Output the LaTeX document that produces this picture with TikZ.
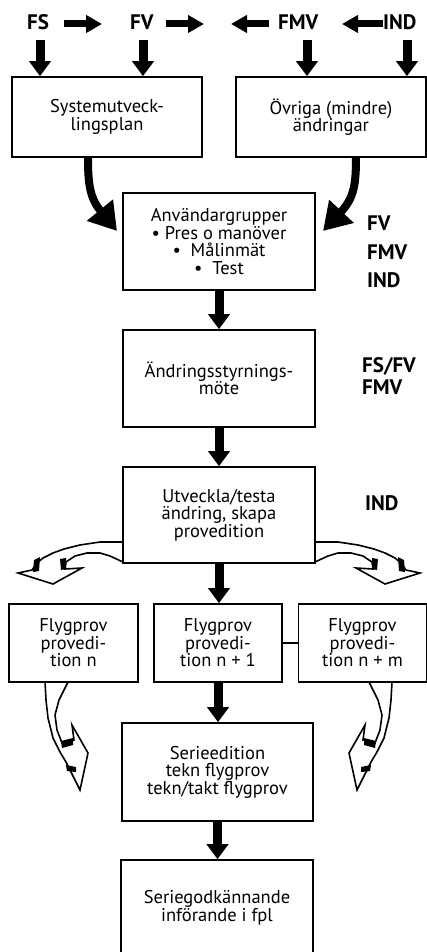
\documentclass[tikz,border=0pt]{standalone}
\usepackage{fontspec}
\setmainfont{PT Sans}
\usetikzlibrary{arrows.meta,calc}
\begin{document}
\begin{tikzpicture}[x=1pt,y=1pt,
 box/.style={draw, line width=1.6pt, fill=white, align=center, inner sep=0pt,
   font=\fontsize{18.5}{17.5}\selectfont},
 lbl/.style={font=\fontsize{21}{21}\selectfont\bfseries, inner sep=0pt, anchor=base west},
 varrow/.style={line width=9pt, -{Triangle[width=21pt,length=15pt]}},
 harrow/.style={line width=7pt, -{Triangle[width=17pt,length=16pt]}},
 carrow/.style={line width=8pt, -{Triangle[width=32pt,length=27pt]}},
 hollow/.style={draw, fill=white, line width=1.6pt, line join=miter},
 ribbonmark/.style={fill=black},
 thinline/.style={line width=1.6pt}
]
\useasboundingbox (0,0) rectangle (427,-952);
\clip (0,0) rectangle (427,-952);

% top labels
\node[lbl] (FS)  at (27,-30)  {FS};
\node[lbl] (FV)  at (130,-30) {FV};
\node[lbl] (FMV) at (278,-30) {FMV};
\node[lbl] (IND) at (383,-30) {IND};

% boxes
\node[box, minimum width=190pt, minimum height=80pt] (b1) at (107,-117) {Systemutveck-\\lingsplan};
\node[box, minimum width=190pt, minimum height=80pt] (b2) at (331,-117) {Övriga (mindre)\\ändringar};
\node[box, minimum width=192pt, minimum height=97pt] (b3) at (219,-241.5) {Användargrupper\\• Pres o manöver\\•\ \ Målinmät\\•\ \ Test};
\node[box, minimum width=192pt, minimum height=97pt] (b4) at (219,-378.5) {Ändringsstyrnings-\\möte};
\node[box, minimum width=192pt, minimum height=96pt] (b5) at (219,-515) {Utveckla/testa\\ändring, skapa\\provedition};
\node[box, minimum width=129pt, minimum height=78pt] (b6) at (73.5,-643) {Flygprov\\provedi-\\tion n};
\node[box, minimum width=128pt, minimum height=78pt] (b7) at (218,-643) {Flygprov\\provedi-\\tion n + 1};
\node[box, minimum width=128pt, minimum height=78pt] (b8) at (362.5,-643) {Flygprov\\provedi-\\tion n + m};
\node[box, minimum width=191pt, minimum height=98pt] (b9) at (217.5,-772) {Serieedition\\tekn flygprov\\tekn/takt flygprov};
\node[box, minimum width=192pt, minimum height=96pt] (b10) at (217,-908) {Seriegodkännande\\införande i fpl};

% right side labels
\node[lbl] (r1) at (367,-230) {FV};
\node[lbl] (r2) at (367,-259) {FMV};
\node[lbl] (r3) at (367,-287) {IND};
\node[lbl] (r4) at (362,-372) {FS/FV};
\node[lbl] (r5) at (362,-394) {FMV};
\node[lbl] (r6) at (365,-510) {IND};

% top horizontal arrows
\coordinate (h1a) at (64,-24);  \coordinate (h1b) at (102,-24);
\coordinate (h2a) at (166,-24); \coordinate (h2b) at (204,-24);
\coordinate (h3a) at (269,-24); \coordinate (h3b) at (231,-24);
\coordinate (h4a) at (383,-24); \coordinate (h4b) at (342,-24);
\draw[harrow] (h1a) -- (h1b);
\draw[harrow] (h2a) -- (h2b);
\draw[harrow] (h3a) -- (h3b);
\draw[harrow] (h4a) -- (h4b);

% top down arrows
\coordinate (d1) at (40,-40);
\coordinate (d2) at (143,-40);
\coordinate (d3) at (307,-40);
\coordinate (d4) at (407,-40);
\draw[varrow] (d1) -- (d1 |- b1.north);
\draw[varrow] (d2) -- (d2 |- b1.north);
\draw[varrow] (d3) -- (d3 |- b2.north);
\draw[varrow] (d4) -- (d4 |- b2.north);

% curved black arrows into b3
\coordinate (c1s) at (88,-157);  \coordinate (c1e) at (117,-231);
\coordinate (c2s) at (356,-157); \coordinate (c2e) at (323,-231);
\draw[carrow] (c1s) .. controls (88,-185) and (90,-198) .. (c1e);
\draw[carrow] (c2s) .. controls (356,-185) and (354,-198) .. (c2e);

% vertical arrows between boxes
\draw[varrow] (b3.south) -- (b3.south |- b4.north);
\draw[varrow] (b4.south) -- (b4.south |- b5.north);
\draw[varrow] (b5.south) -- (b5.south |- b7.north);
\draw[varrow] (b7.south) -- (b7.south |- b9.north);
\draw[varrow] (b9.south) -- (b9.south |- b10.north);

% link b7 - b8
\draw[thinline] (b7.east) -- (b8.west);

% hollow arrows from b5
\draw[hollow] (123,-542) -- (100,-542) -- (80,-545) -- (64,-549) -- (53,-553) -- (43,-558) -- (37,-563) -- (32,-570)
  -- (18,-573) -- (53,-584) -- (82,-568) -- (65,-569) -- (66,-562) -- (75,-556) -- (87,-553) -- (100,-553) -- (110,-556) -- (123,-562) -- cycle;
\fill[ribbonmark] (34,-560) -- (40,-557) -- (39,-571) -- (33,-572) -- cycle;
\fill[ribbonmark] (60,-559) -- (66,-558) -- (66,-569) -- (61,-570) -- cycle;
\draw[hollow] (315,-542) -- (338,-542) -- (358,-545) -- (374,-549) -- (385,-553) -- (395,-558) -- (401,-563) -- (406,-570)
  -- (420,-573) -- (385,-584) -- (356,-568) -- (373,-569) -- (372,-562) -- (363,-556) -- (351,-553) -- (338,-553) -- (328,-556) -- (315,-562) -- cycle;
\fill[ribbonmark] (404,-560) -- (398,-557) -- (399,-571) -- (405,-572) -- cycle;
\fill[ribbonmark] (378,-559) -- (372,-558) -- (372,-569) -- (377,-570) -- cycle;

% hollow arrows from b6 and b8
\draw[hollow] (45,-682) -- (46,-700) -- (48,-718) -- (53,-738) -- (60,-752) -- (66,-762) -- (80,-790)
  -- (88,-753) -- (72,-725) -- (74,-740) -- (62,-743) -- (57,-730) -- (55,-715) -- (59,-700) -- (68,-682) -- cycle;
\fill[ribbonmark] (61,-741) -- (73,-738) -- (73,-745) -- (62,-748) -- cycle;
\fill[ribbonmark] (66,-765) -- (76,-767) -- (76,-772) -- (67,-771) -- cycle;
\draw[hollow] (392,-682) -- (391,-700) -- (389,-718) -- (384,-738) -- (377,-752) -- (371,-762) -- (357,-790)
  -- (349,-753) -- (365,-725) -- (363,-740) -- (375,-743) -- (380,-730) -- (382,-715) -- (378,-700) -- (369,-682) -- cycle;
\fill[ribbonmark] (376,-741) -- (364,-738) -- (364,-745) -- (375,-748) -- cycle;
\fill[ribbonmark] (371,-765) -- (361,-767) -- (361,-772) -- (370,-771) -- cycle;
\end{tikzpicture}
\end{document}
